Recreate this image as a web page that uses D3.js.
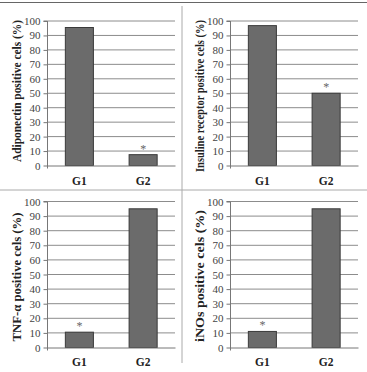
<!DOCTYPE html>
<html>
<head>
<meta charset="utf-8">
<script src="https://cdn.jsdelivr.net/npm/d3@7"></script>
<style>
  html, body { margin: 0; padding: 0; background: #fff; }
  svg { display: block; }
</style>
</head>
<body>
<svg id="chart" width="367" height="372"></svg>
<script>
const categories = ["G1", "G2"];
const yTicks = [0, 10, 20, 30, 40, 50, 60, 70, 80, 90, 100];
const panelTitles = [
  "Adiponectin positive cels (%)",
  "Insuline receptor positive cels (%)",
  "TNF-\u03b1 positive cels (%)",
  "iNOs positive cels (%)"
];
const adiponectinValues = [95.5, 7.5];
const insulineReceptorValues = [96.8, 50];
const tnfValues = [10.5, 95];
const inosValues = [11, 95];
const significant = [[false, true], [false, true], [true, false], [true, false]];

const seriesList = [adiponectinValues, insulineReceptorValues, tnfValues, inosValues];

// layout (not data)
const panels = [
  { x0: 0, top: 21, bottom: 165.5, labelY: 185, titleC: 91, titleL: 142 },
  { x0: 183, top: 21, bottom: 165.5, labelY: 185, titleC: 96, titleL: 152 },
  { x0: 0, top: 201.5, bottom: 347.5, labelY: 366, titleC: 277, titleL: 129 },
  { x0: 183, top: 201.5, bottom: 347.5, labelY: 366, titleC: 276, titleL: 132 }
];
const serif = "'Liberation Serif', 'Times New Roman', Times, serif";

const svg = d3.select("#chart");

// frame lines
svg.append("line").attr("x1", 0).attr("x2", 367).attr("y1", 2.5).attr("y2", 2.5)
  .attr("stroke", "#666").attr("stroke-width", 1.2);
svg.append("line").attr("x1", 0).attr("x2", 367).attr("y1", 190).attr("y2", 190)
  .attr("stroke", "#aaa").attr("stroke-width", 1);
svg.append("line").attr("x1", 182).attr("x2", 182).attr("y1", 6).attr("y2", 363)
  .attr("stroke", "#aaa").attr("stroke-width", 1);

panels.forEach((p, i) => {
  const values = seriesList[i];
  const left = p.x0 + 47.5, right = p.x0 + 175;
  const y = d3.scaleLinear().domain([0, 100]).range([p.bottom, p.top]);
  const x = d3.scaleBand().domain(categories).range([left, right])
    .paddingInner(0.56).paddingOuter(0.28);

  const g = svg.append("g");

  // gridlines
  g.selectAll("line.grid").data(yTicks.filter(t => t > 0)).enter().append("line")
    .attr("class", "grid")
    .attr("x1", left).attr("x2", right)
    .attr("y1", d => y(d)).attr("y2", d => y(d))
    .attr("stroke", "#8c8c8c").attr("stroke-width", 1);

  // y axis
  const yAxis = d3.axisLeft(y).tickValues(yTicks).tickSize(4).tickPadding(3);
  const ya = g.append("g").attr("transform", `translate(${left},0)`).call(yAxis);
  ya.attr("font-family", serif);
  ya.select(".domain").attr("stroke", "#777").attr("d", `M-4,${y(100)}H0V${p.bottom + 3}`);
  ya.selectAll(".tick line").attr("stroke", "#777");
  ya.selectAll(".tick text")
    .attr("font-family", serif)
    .attr("font-size", 11).attr("fill", "#444");

  // bars
  g.selectAll("rect.bar").data(categories).enter().append("rect")
    .attr("class", "bar")
    .attr("x", d => x(d))
    .attr("width", x.bandwidth())
    .attr("y", (d, j) => y(values[j]))
    .attr("height", (d, j) => p.bottom - y(values[j]))
    .attr("fill", "#6b6b6b").attr("stroke", "#3a3a3a").attr("stroke-width", 1);

  // x axis baseline
  const xa = d3.axisBottom(x).tickSize(0).tickPadding(10);
  const xg = g.append("g").attr("transform", `translate(0,${p.bottom})`).call(xa);
  xg.select(".domain").attr("stroke", "#777");
  xg.selectAll(".tick text").remove();

  // category labels
  g.selectAll("text.cat").data(categories).enter().append("text")
    .attr("class", "cat")
    .attr("x", d => x(d) + x.bandwidth() / 2)
    .attr("y", p.labelY)
    .attr("text-anchor", "middle")
    .attr("font-family", serif)
    .attr("font-weight", "bold").attr("font-size", 11.5).attr("fill", "#222")
    .text(d => d);

  // significance stars
  g.selectAll("text.star").data(categories.filter((d, j) => significant[i][j])).enter().append("text")
    .attr("class", "star")
    .attr("x", d => x(d) + x.bandwidth() / 2)
    .attr("y", d => y(values[categories.indexOf(d)]) - 2)
    .attr("text-anchor", "middle")
    .attr("font-family", serif)
    .attr("font-size", 12).attr("fill", "#666")
    .text("*");

  // y axis title
  g.append("text")
    .attr("transform", `translate(${p.x0 + 21},${p.titleC}) rotate(-90)`)
    .attr("text-anchor", "middle")
    .attr("font-family", serif)
    .attr("font-weight", "bold").attr("font-size", 11.5).attr("fill", "#222")
    .attr("textLength", p.titleL).attr("lengthAdjust", "spacingAndGlyphs")
    .text(panelTitles[i]);
});
</script>
</body>
</html>
